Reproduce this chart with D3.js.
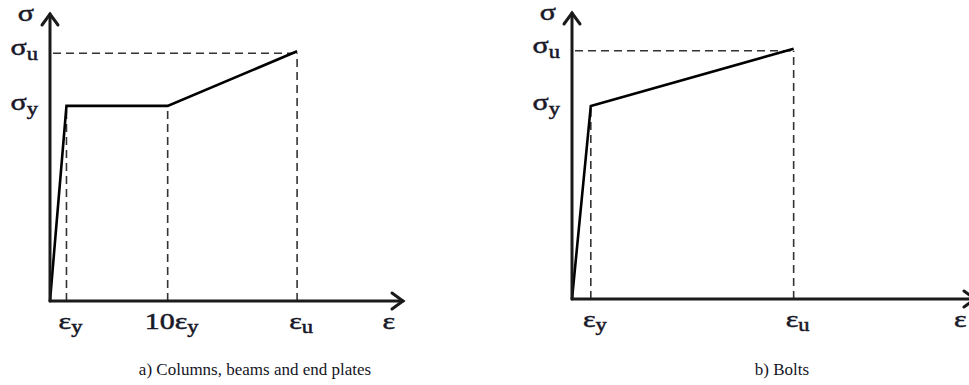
<!DOCTYPE html>
<html>
<head>
<meta charset="utf-8">
<script src="https://cdn.jsdelivr.net/npm/d3@7"></script>
<style>
  html, body { margin: 0; padding: 0; background: #fff; }
  svg { display: block; }
  text { font-family: "Liberation Serif", "Times New Roman", serif; fill: #15151f; }
  .sym { fill: #181828; stroke: #181828; stroke-width: 0.5; }
</style>
</head>
<body>
<svg id="chart" width="969" height="385"></svg>
<script>
// Idealised stress-strain laws (schematic units: strain relative, stress relative)
// a) Columns, beams and end plates: elastic - plateau - hardening
const strainA = [0, 1.4, 10, 21];
const stressA = [0, 0.68, 0.68, 0.87];
const strainTicksA = [1.4, 10, 21];
const strainLabelsA = [["ε", "y"], ["10ε", "y"], ["ε", "u"]];

// b) Bolts: elastic - hardening
const strainB = [0, 1.4, 16.5];
const stressB = [0, 0.675, 0.875];
const strainTicksB = [1.4, 16.5];
const strainLabelsB = [["ε", "y"], ["ε", "u"]];

const stressLabels = [["σ", "y"], ["σ", "u"]];
const captions = ["a) Columns, beams and end plates", "b) Bolts"];

const svg = d3.select("#chart");

const panels = [
  { strain: strainA, stress: stressA, ticks: strainTicksA, tickLabels: strainLabelsA,
    x0: 50, x1: 403, y0: 301, y1: 14, epsAt: 28.8, caption: captions[0], capX: 255 },
  { strain: strainB, stress: stressB, ticks: strainTicksB, tickLabels: strainLabelsB,
    x0: 572, x1: 975, y0: 299, y1: 13, epsAt: 28.9, caption: captions[1], capX: 782 }
];

// symbol text, slightly widened like the typeset originals
function symText(g, px, py, anchor, size) {
  return g.append("text")
    .attr("class", "sym")
    .attr("transform", `translate(${px},${py}) scale(1.25,1)`)
    .attr("text-anchor", anchor)
    .attr("font-size", size);
}

panels.forEach(p => {
  const x = d3.scaleLinear().domain([0, 30]).range([p.x0, p.x1]);
  const y = d3.scaleLinear().domain([0, 1]).range([p.y0, p.y1]);
  const g = svg.append("g");
  const n = p.strain.length;
  const eu = p.strain[n - 1], su = p.stress[n - 1];
  const sy = p.stress[1];

  // dashed guides
  const dash = g.append("g")
    .attr("stroke", "#333").attr("stroke-width", 1.6)
    .attr("stroke-dasharray", "8,5").attr("fill", "none");
  dash.append("line")
    .attr("x1", x(0) + 3).attr("x2", x(eu))
    .attr("y1", y(su) + 2).attr("y2", y(su) + 2);
  p.ticks.forEach(t => {
    const k = p.strain.indexOf(t);
    dash.append("line")
      .attr("x1", x(t)).attr("x2", x(t))
      .attr("y1", y(0)).attr("y2", y(p.stress[k]) + 2);
  });

  // stress-strain curve
  const line = d3.line().x(d => x(d[0])).y(d => y(d[1]));
  g.append("path")
    .datum(p.strain.map((s, i) => [s, p.stress[i]]))
    .attr("d", line)
    .attr("fill", "none").attr("stroke", "#000")
    .attr("stroke-width", 2.6).attr("stroke-linejoin", "miter");

  // axes with open arrowheads
  const ax = g.append("g").attr("stroke", "#1a1a1a").attr("stroke-width", 3)
    .attr("fill", "none").attr("stroke-linecap", "round");
  ax.append("path").attr("d", `M${x(0)},${y(0)}H${x(30)}`);
  ax.append("path").attr("d", `M${x(30) - 11},${y(0) - 8}L${x(30)},${y(0)}L${x(30) - 11},${y(0) + 8}`);
  ax.append("path").attr("d", `M${x(0)},${y(0)}V${y(1)}`);
  ax.append("path").attr("d", `M${x(0) - 8},${y(1) + 11}L${x(0)},${y(1)}L${x(0) + 8},${y(1) + 11}`);

  // axis titles
  symText(g, x(0) - 16, y(1) + 7, "end", 24).text("σ");
  symText(g, x(p.epsAt), y(0) + 28, "middle", 24).text("ε");

  // stress levels
  [sy, su].forEach((v, i) => {
    const t = symText(g, x(0) - 12, y(v) + 4, "end", 24);
    t.append("tspan").text(stressLabels[i][0]);
    t.append("tspan").attr("font-size", 18).attr("dy", 5).text(stressLabels[i][1]);
  });

  // strain ticks
  p.ticks.forEach((v, i) => {
    const t = symText(g, x(v) + 4, y(0) + 28, "middle", 24);
    t.append("tspan").text(p.tickLabels[i][0]);
    t.append("tspan").attr("font-size", 18).attr("dy", 4).text(p.tickLabels[i][1]);
  });

  // caption
  g.append("text").attr("x", p.capX).attr("y", 375)
    .attr("text-anchor", "middle").attr("font-size", 17).text(p.caption);
});
</script>
</body>
</html>
